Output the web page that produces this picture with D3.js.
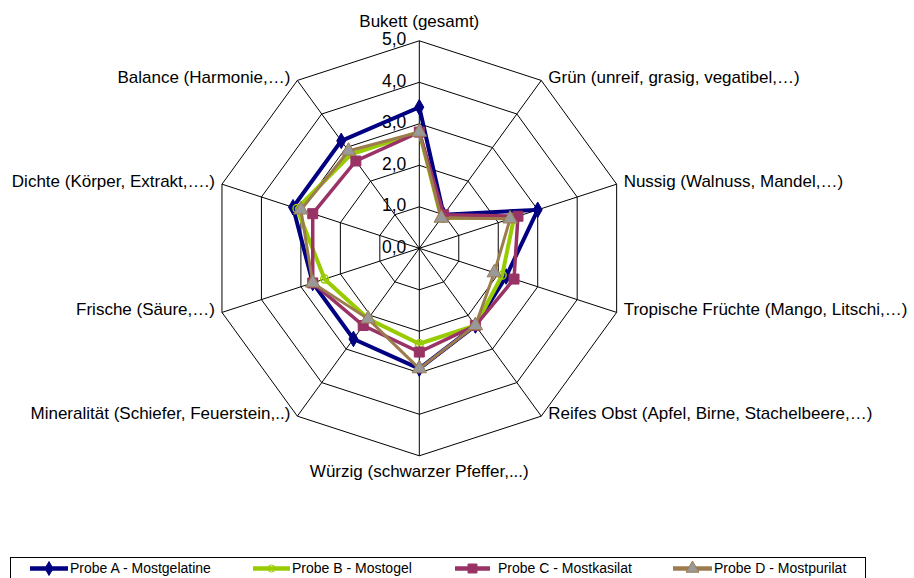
<!DOCTYPE html>
<html>
<head>
<meta charset="utf-8">
<script src="https://cdn.jsdelivr.net/npm/d3@7"></script>
<style>
  body { margin: 0; background: #fff; }
  svg { display: block; font-family: Arial, "Liberation Sans", sans-serif; }
</style>
</head>
<body>
<div id="wrapper"></div>
<script>
// categories (clockwise from top)
const categories = [
  "Bukett (gesamt)",
  "Grün (unreif, grasig, vegatibel,…)",
  "Nussig (Walnuss, Mandel,…)",
  "Tropische Früchte (Mango, Litschi,…)",
  "Reifes Obst (Apfel, Birne, Stachelbeere,…)",
  "Würzig (schwarzer Pfeffer,...)",
  "Mineralität (Schiefer, Feuerstein,..)",
  "Frische (Säure,…)",
  "Dichte (Körper, Extrakt,….)",
  "Balance (Harmonie,…)"
]

const seriesNames = [
  "Probe A - Mostgelatine",
  "Probe B - Mostogel",
  "Probe C - Mostkasilat",
  "Probe D - Mostpurilat"
]

const probeA = [3.4, 1.0, 3.0, 2.2, 2.3, 2.9, 2.7, 2.7, 3.2, 3.2]
const probeB = [2.8, 0.9, 2.4, 2.1, 2.3, 2.3, 2.1, 2.4, 3.1, 2.8]
const probeC = [2.8, 1.0, 2.5, 2.4, 2.3, 2.5, 2.3, 2.7, 2.7, 2.6]
const probeD = [2.8, 0.9, 2.3, 1.9, 2.3, 2.9, 2.1, 2.7, 3.0, 2.9]

const tickValues = [0, 1, 2, 3, 4, 5]
const tickLabels = ["0,0", "1,0", "2,0", "3,0", "4,0", "5,0"]

function drawRadar() {
  const width = 914
  const height = 578
  const cx = 419.3
  const cy = 248.3
  const outerR = 207.5

  const svg = d3.select("#wrapper")
    .append("svg")
    .attr("width", width)
    .attr("height", height)

  const rScale = d3.scaleLinear()
    .domain([0, 5])
    .range([0, outerR])

  const angleScale = d3.scaleLinear()
    .domain([0, categories.length])
    .range([0, 2 * Math.PI])

  const pt = (i, v) => {
    const a = angleScale(i)
    return [cx + rScale(v) * Math.sin(a), cy - rScale(v) * Math.cos(a)]
  }

  const grid = svg.append("g")

  // rings
  grid.selectAll(".ring")
    .data(tickValues.filter(d => d > 0))
    .join("polygon")
    .attr("points", v => categories.map((c, i) => pt(i, v).join(",")).join(" "))
    .attr("fill", "none")
    .attr("stroke", "#000")
    .attr("stroke-width", 1)

  // spokes
  grid.selectAll(".spoke")
    .data(categories)
    .join("line")
    .attr("x1", cx)
    .attr("y1", cy)
    .attr("x2", (d, i) => pt(i, 5)[0])
    .attr("y2", (d, i) => pt(i, 5)[1])
    .attr("stroke", "#000")
    .attr("stroke-width", 1)

  // tick labels
  grid.selectAll(".tick")
    .data(tickValues)
    .join("text")
    .attr("x", cx - 13)
    .attr("y", d => cy - rScale(d))
    .attr("text-anchor", "end")
    .attr("dominant-baseline", "middle")
    .attr("font-size", "17.5px")
    .attr("fill", "#000")
    .text((d, i) => tickLabels[i])

  // axis labels
  grid.selectAll(".label")
    .data(categories)
    .join("text")
    .attr("font-size", "17px")
    .attr("fill", "#000")
    .each(function (d, i) {
      const [x, y] = pt(i, 5)
      const el = d3.select(this)
      if (i === 0) {
        el.attr("x", x).attr("y", y - 14).attr("text-anchor", "middle")
      } else if (i === 5) {
        el.attr("x", x).attr("y", y + 17).attr("text-anchor", "middle")
          .attr("dominant-baseline", "middle")
      } else if (i < 5) {
        el.attr("x", x + 7).attr("y", y - 2).attr("text-anchor", "start")
          .attr("dominant-baseline", "middle")
      } else {
        el.attr("x", x - 7).attr("y", y - 2).attr("text-anchor", "end")
          .attr("dominant-baseline", "middle")
      }
    })
    .text(d => d)

  const series = [
    { name: seriesNames[0], values: probeA, color: "#000080", width: 4, marker: "diamond", fill: "#000080", mstroke: "#000080" },
    { name: seriesNames[1], values: probeB, color: "#99CC00", width: 4, marker: "circle", fill: "none", mstroke: "#99CC00" },
    { name: seriesNames[2], values: probeC, color: "#993366", width: 3.5, marker: "square", fill: "#993366", mstroke: "#993366" },
    { name: seriesNames[3], values: probeD, color: "#9C7B4E", width: 3, marker: "triangle", fill: "#999999", mstroke: "#9C7B4E" }
  ]

  const symbolType = {
    diamond: d3.symbolDiamond,
    circle: d3.symbolCircle,
    square: d3.symbolSquare,
    triangle: d3.symbolTriangle
  }
  const symbolSize = { diamond: 70, circle: 50, square: 100, triangle: 90 }

  const lineGen = d3.lineRadial()
    .angle((d, i) => angleScale(i))
    .radius(d => rScale(d))
    .curve(d3.curveLinearClosed)

  const seriesGroup = svg.append("g")

  series.forEach(s => {
    const g = seriesGroup.append("g")
    g.append("path")
      .attr("transform", `translate(${cx},${cy})`)
      .attr("d", lineGen(s.values))
      .attr("fill", "none")
      .attr("stroke", s.color)
      .attr("stroke-width", s.width)
      .attr("stroke-linejoin", "miter")

    g.selectAll("path.m")
      .data(s.values)
      .join("path")
      .attr("class", "m")
      .attr("transform", (d, i) => `translate(${pt(i, d)[0]},${pt(i, d)[1]})`)
      .attr("d", d3.symbol().type(symbolType[s.marker]).size(symbolSize[s.marker]))
      .attr("fill", s.fill)
      .attr("stroke", s.mstroke)
      .attr("stroke-width", s.marker === "circle" ? 1.5 : 1)
  })

  // legend
  const legend = svg.append("g")
  legend.append("rect")
    .attr("x", 10.5)
    .attr("y", 557.5)
    .attr("width", 855)
    .attr("height", 30)
    .attr("fill", "#fff")
    .attr("stroke", "#000")
    .attr("stroke-width", 1)

  const legendX = [30, 253, 455, 673]
  const legendTextX = [70, 292, 498, 714]
  const legendY = 568.5

  series.forEach((s, i) => {
    const lg = legend.append("g")
    lg.append("line")
      .attr("x1", legendX[i])
      .attr("x2", legendTextX[i] - (i === 2 ? 8 : 2))
      .attr("y1", legendY)
      .attr("y2", legendY)
      .attr("stroke", s.color)
      .attr("stroke-width", 4.5)
    const mx = (legendX[i] + legendTextX[i] - (i === 2 ? 8 : 2)) / 2
    lg.append("path")
      .attr("transform", `translate(${mx},${legendY})`)
      .attr("d", d3.symbol().type(symbolType[s.marker]).size(symbolSize[s.marker] * 0.8))
      .attr("fill", s.fill)
      .attr("stroke", s.mstroke)
      .attr("stroke-width", 1)
    lg.append("text")
      .attr("x", legendTextX[i])
      .attr("y", legendY + 1)
      .attr("dominant-baseline", "middle")
      .attr("font-size", "14px")
      .attr("fill", "#000")
      .text(s.name)
  })
}

drawRadar()
</script>
</body>
</html>
